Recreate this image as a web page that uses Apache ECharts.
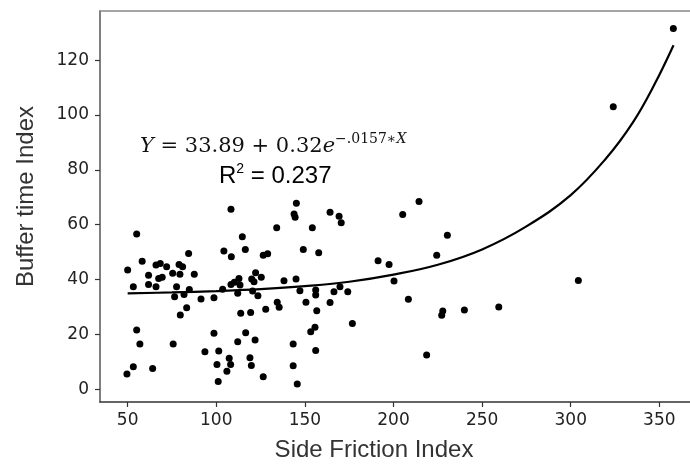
<!DOCTYPE html>
<html>
<head>
<meta charset="utf-8">
<script src="https://cdn.jsdelivr.net/npm/echarts@6/dist/echarts.min.js"></script>
<style>
html,body{margin:0;padding:0;background:#fff;}
#chart{width:690px;height:466px;}
</style>
</head>
<body>
<div id="chart"></div>
<script>
// Scatter observations (Side Friction Index, Buffer time Index)
var sideFriction = [
  55.1, 50.0, 53.2, 58.2, 61.8, 61.8, 66.0, 66.0, 68.4, 67.5,
  69.5, 72.0, 75.4, 79.0, 81.0, 79.5, 77.6, 76.5, 81.8, 84.4,
  84.8, 87.6, 83.3, 79.7, 91.4, 98.7, 55.1, 56.9, 75.7, 49.6,
  53.2, 64.1, 93.6, 98.7, 101.4, 100.4, 101.1, 107.3, 108.1, 106.0,
  104.3, 108.5, 103.6, 108.3, 110.2, 112.8, 113.4, 112.1, 112.1, 113.8,
  114.7, 116.4, 116.6, 119.0, 119.8, 119.4, 120.0, 121.3, 120.5, 122.2,
  123.5, 121.9, 125.4, 126.5, 127.9, 126.5, 129.0, 134.4, 135.5, 138.2,
  143.4, 143.4, 145.0, 145.7, 147.2, 149.1, 150.6, 153.3, 155.7, 156.1,
  156.1, 156.1, 156.7, 157.8, 164.2, 166.4, 169.8, 174.2, 108.3, 134.1,
  145.2, 143.9, 144.5, 154.2, 164.2, 169.3, 170.5, 214.4, 205.2, 230.4,
  324.0, 357.9, 176.8, 191.3, 197.5, 200.3, 208.4, 218.7, 224.4, 227.8,
  227.2, 240.0, 259.4, 304.3
];
var bufferTime = [
  56.6, 43.5, 37.4, 46.7, 41.6, 38.2, 37.4, 45.3, 45.9, 40.4,
  40.8, 44.7, 42.3, 45.5, 44.7, 41.9, 37.4, 33.7, 34.6, 49.5,
  36.4, 41.9, 29.7, 27.1, 32.9, 33.4, 21.6, 16.5, 16.5, 5.6,
  8.2, 7.6, 13.7, 20.4, 14.0, 9.0, 2.8, 11.3, 9.0, 6.6,
  50.4, 48.3, 36.5, 38.2, 39.0, 40.4, 38.0, 35.0, 17.3, 27.7,
  55.6, 51.0, 20.6, 11.5, 8.7, 28.0, 40.2, 39.2, 35.8, 42.5,
  34.1, 18.0, 40.8, 4.6, 29.2, 48.9, 49.4, 31.7, 29.9, 39.6,
  16.5, 8.6, 40.2, 1.9, 35.9, 51.0, 31.7, 21.0, 22.6, 14.1,
  36.2, 34.4, 28.6, 49.8, 31.6, 35.6, 37.4, 35.6, 65.6, 58.9,
  67.8, 63.9, 62.7, 58.9, 64.5, 63.1, 60.7, 68.5, 63.7, 56.2,
  103.0, 131.5, 24.0, 46.9, 45.5, 39.5, 32.8, 12.5, 48.9, 28.5,
  27.0, 28.9, 30.0, 39.7
];
// Fitted curve
var fitX = [50, 75, 100, 125, 150, 175, 200, 225, 250, 275, 300, 320, 335, 347, 358];
var fitY = [35.0, 35.3, 35.8, 36.5, 37.6, 39.2, 41.8, 45.4, 51.0, 59.4, 70.8, 84.2, 97.2, 110.8, 125.4];
// Tick labels
var xTicks = [50, 100, 150, 200, 250, 300, 350];
var yTicks = [0, 20, 40, 60, 80, 100, 120];

var scatterData = sideFriction.map(function (x, i) { return [x, bufferTime[i]]; });
var fitData = fitX.map(function (x, i) { return [x, fitY[i]]; });

var chart = echarts.init(document.getElementById('chart'), null, {renderer: 'canvas'});
var tickFont = {fontFamily: 'DejaVu Sans', fontSize: 17, color: '#222'};
var xMin = 34.4, xMax = 367.3;
chart.setOption({
  animation: false,
  backgroundColor: '#fff',
  grid: {left: 100, right: 0, top: 11, bottom: 64, containLabel: false, outerBoundsMode: 'none'},
  xAxis: [{
    type: 'value', min: xMin, max: xMax, position: 'bottom',
    name: 'Side Friction Index', nameLocation: 'middle', nameGap: 36,
    nameTextStyle: {fontFamily: 'Liberation Sans', fontSize: 24, color: '#333', padding: [0, 42, 0, 0]},
    axisLine: {show: true, onZero: false, lineStyle: {color: '#333', width: 1.5}},
    axisTick: {show: true, length: 5, customValues: xTicks, lineStyle: {color: '#333', width: 1.2}},
    axisLabel: Object.assign({customValues: xTicks, margin: 10}, tickFont),
    splitLine: {show: false}
  }, {
    type: 'value', min: xMin, max: xMax, position: 'top',
    axisLine: {show: true, onZero: false, lineStyle: {color: '#888', width: 1.5}},
    axisTick: {show: false}, axisLabel: {show: false}, splitLine: {show: false}
  }],
  yAxis: {
    type: 'value', min: -4.63, max: 137.9,
    name: 'Buffer time Index', nameLocation: 'middle', nameGap: 62,
    nameTextStyle: {fontFamily: 'Liberation Sans', fontSize: 24, color: '#333', padding: [0, 0, 0, 20]},
    axisLine: {show: true, onZero: false, lineStyle: {color: '#555', width: 1.5}},
    axisTick: {show: true, length: 5, customValues: yTicks, lineStyle: {color: '#333', width: 1.2}},
    axisLabel: Object.assign({customValues: yTicks, margin: 11}, tickFont),
    splitLine: {show: false}
  },
  series: [{
    type: 'scatter', data: scatterData, symbolSize: 7,
    itemStyle: {color: '#000', opacity: 1}
  }, {
    type: 'line', data: fitData, smooth: 0.4, smoothConstraint: false, showSymbol: false,
    lineStyle: {color: '#000', width: 2.2}
  }],
  graphic: [{
    type: 'text', left: 140, top: 132,
    style: {
      text: '{i|Y}{m| = 33.89 + 0.32}{i|e}{s|\u2212.0157\u2217}{si|X}',
      rich: {
        m: {fontFamily: 'DejaVu Serif', fontSize: 21, lineHeight: 30, fill: '#111'},
        i: {fontFamily: 'DejaVu Serif', fontStyle: 'italic', fontSize: 21, lineHeight: 30, fill: '#111'},
        s: {fontFamily: 'DejaVu Serif', fontSize: 14, lineHeight: 14, verticalAlign: 'top', fill: '#111'},
        si: {fontFamily: 'DejaVu Serif', fontStyle: 'italic', fontSize: 14, lineHeight: 14, verticalAlign: 'top', fill: '#111'}
      }
    }
  }, {
    type: 'text', left: 219, top: 162,
    style: {
      text: '{m|R}{s|2}{m| = 0.237}',
      rich: {
        m: {fontFamily: 'Liberation Sans', fontSize: 24, lineHeight: 28, fill: '#000'},
        s: {fontFamily: 'Liberation Sans', fontSize: 14, lineHeight: 20, verticalAlign: 'top', fill: '#000'}
      }
    }
  }]
});
</script>
</body>
</html>
